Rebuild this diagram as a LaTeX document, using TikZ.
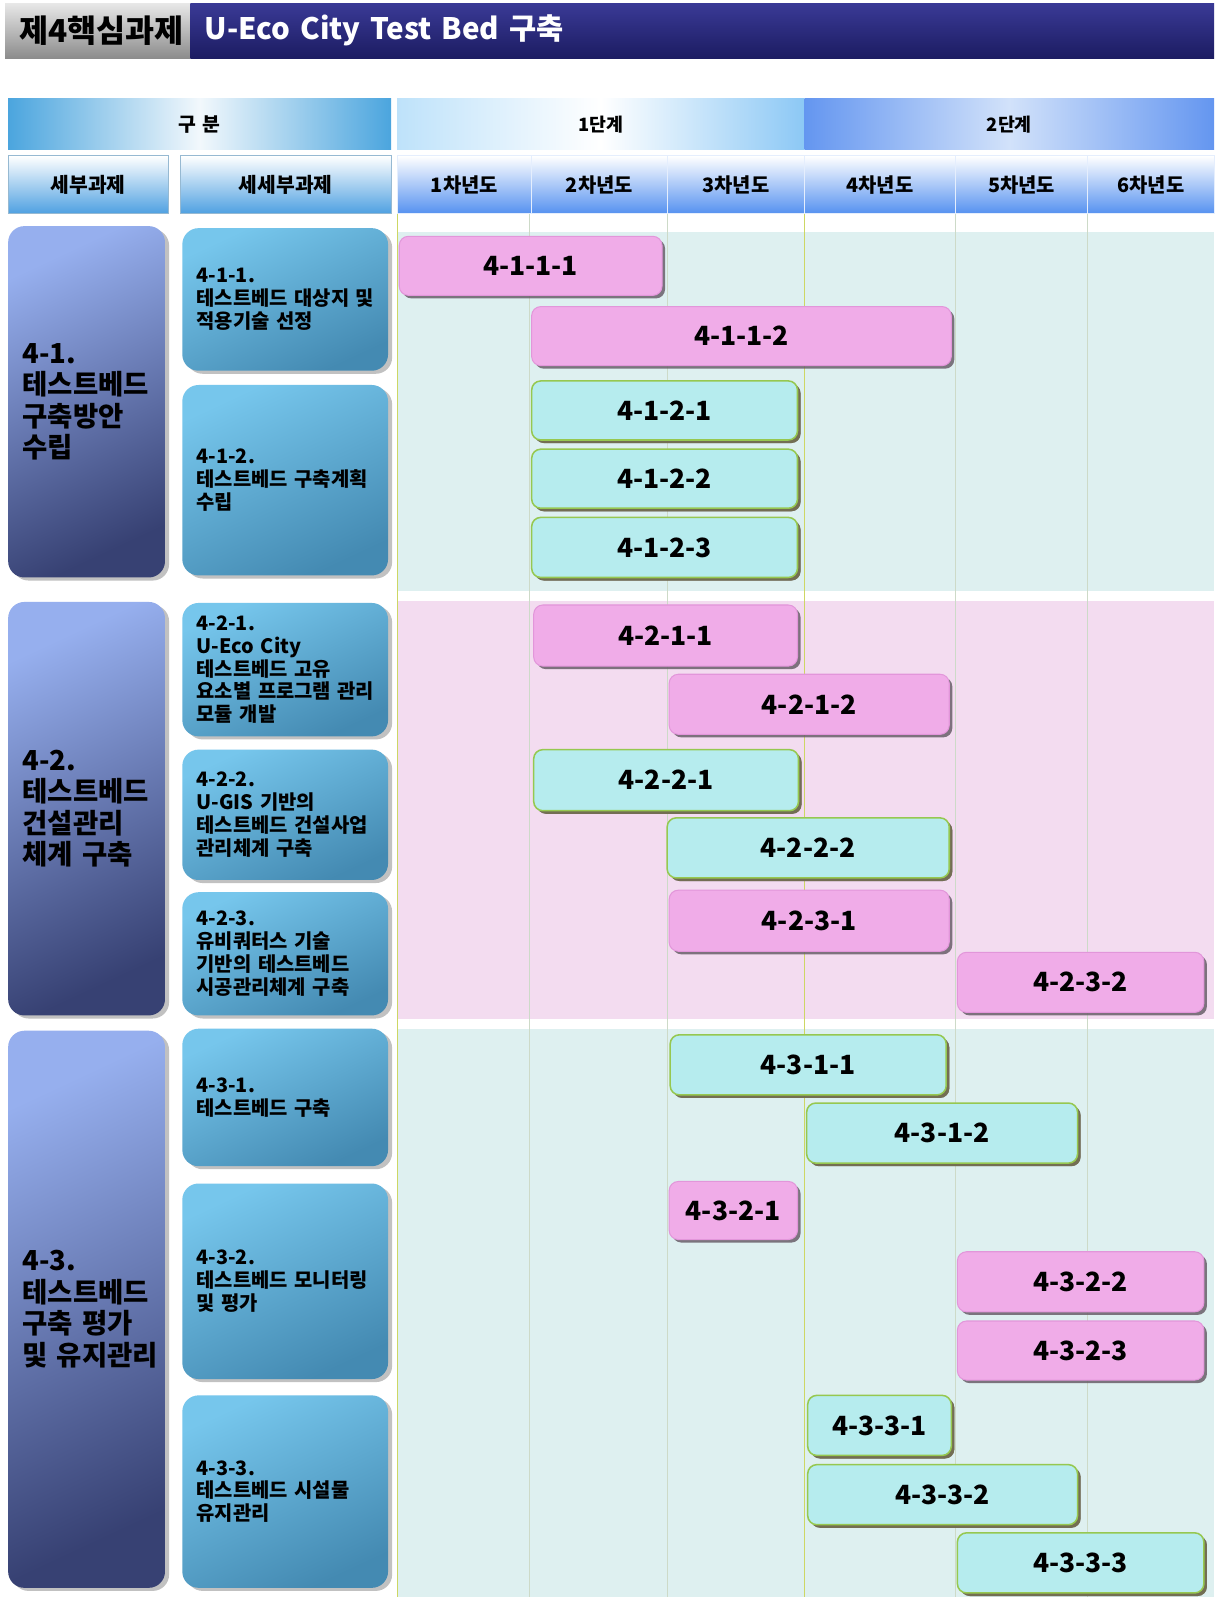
\documentclass[tikz,border=0pt]{standalone}
\usepackage{fontspec}
\setmainfont{Noto Sans CJK KR}
\usetikzlibrary{shadows}
\newcommand\myfs[2]{\fontsize{#1}{#2}\selectfont}
\newcommand\cellbox[7]{%
  \pgfmathsetmacro\bw{#5-#3}\pgfmathsetmacro\bh{#6-#4}\pgfmathsetmacro\tw{max(#5-#3-28,10)}%
  \node[#1, minimum width=\bw pt, minimum height=\bh pt, text width=\tw pt] (#2) at (#3,#4) {#7};}
\newcommand\gbar[7]{%
  \pgfmathsetmacro\bw{#5-#3-3}\pgfmathsetmacro\bh{#6-#4-3}%
  \node[#1, minimum width=\bw pt, minimum height=\bh pt] (#2) at (#3,#4) {#7};}
\definecolor{pinkfill}{RGB}{240,172,232}
\definecolor{pinkline}{RGB}{226,150,218}
\definecolor{tealfill}{RGB}{182,236,238}
\definecolor{tealline}{RGB}{150,200,80}
\definecolor{bandteal}{RGB}{222,240,240}
\definecolor{bandpink}{RGB}{243,220,240}
\definecolor{gridmain}{RGB}{205,215,100}
\definecolor{gridsub}{RGB}{205,218,200}
\definecolor{shadowc}{RGB}{105,95,105}
\definecolor{grpA}{RGB}{150,175,238}
\definecolor{grpB}{RGB}{55,65,115}
\definecolor{subA}{RGB}{118,198,236}
\definecolor{subB}{RGB}{68,138,178}
\definecolor{tgA}{RGB}{232,232,232}
\definecolor{tgB}{RGB}{140,140,140}
\definecolor{tbA}{RGB}{58,58,150}
\definecolor{tbB}{RGB}{28,28,98}
\definecolor{hA}{RGB}{75,165,222}
\definecolor{hM}{RGB}{242,248,252}
\definecolor{hB}{RGB}{190,226,250}
\definecolor{hBr}{RGB}{140,200,245}
\definecolor{hC}{RGB}{100,150,240}
\definecolor{hCm}{RGB}{210,226,250}
\definecolor{rowA}{RGB}{78,160,225}
\definecolor{rowY}{RGB}{85,145,240}
\definecolor{cellline}{RGB}{150,185,210}
\tikzset{
  cell/.style={inner sep=0pt, outer sep=0pt, anchor=north west, align=center},
  titlegray/.style={cell, top color=tgA, bottom color=tgB, font=\bfseries\myfs{31}{32}},
  titleblue/.style={cell, top color=tbA, bottom color=tbB, text=white, align=left, font=\bfseries\myfs{29}{32}},
  hdrgubun/.style={cell, left color=hA, right color=hA, middle color=hM, font=\bfseries\myfs{19}{20}},
  hdrone/.style={cell, left color=hB, right color=hBr, middle color=white, font=\bfseries\myfs{18}{20}},
  hdrtwo/.style={cell, left color=hC, right color=hC, middle color=hCm, font=\bfseries\myfs{18}{20}},
  hdrtask/.style={cell, top color=white, bottom color=rowA, draw=cellline, line width=0.8pt, font=\bfseries\myfs{20}{22}},
  hdryear/.style={cell, top color=white, bottom color=rowY, draw=white!85!rowY, line width=0.8pt, font=\bfseries\myfs{19.5}{22}},
  grpbox/.style={cell, align=left, rounded corners=16pt, top color=grpA, bottom color=grpB, shading angle=25,
     drop shadow={shadow xshift=4pt, shadow yshift=-3pt, fill=gray!60, opacity=0.8}, font=\bfseries\myfs{27}{31}},
  subbox/.style={cell, align=left, rounded corners=16pt, top color=subA, bottom color=subB, shading angle=25,
     drop shadow={shadow xshift=4pt, shadow yshift=-3pt, fill=gray!60, opacity=0.8}, font=\bfseries\myfs{19.5}{22.5}},
  pinkbar/.style={cell, rounded corners=9pt, fill=pinkfill, draw=pinkline, line width=1pt,
     drop shadow={shadow xshift=3pt, shadow yshift=-3pt, fill=shadowc, opacity=0.85}, font=\bfseries\myfs{26}{26}},
  tealbar/.style={pinkbar, fill=tealfill, draw=tealline, line width=1.5pt,
     drop shadow={shadow xshift=3pt, shadow yshift=-3pt, fill=black!45!olive!60!gray, opacity=0.85}},
  gridmainline/.style={draw=gridmain, line width=1pt},
  gridsubline/.style={draw=gridsub, line width=0.8pt},
}
\begin{document}
\begin{tikzpicture}[x=1pt,y=-1pt]
\useasboundingbox (0,0) rectangle (1194,1568);
\fill[white] (0,0) rectangle (1194,1568);
% title
\cellbox{titlegray}{tgray}{5}{3}{187}{57}{제4핵심과제}
\cellbox{titleblue}{tblue}{187}{3}{1192}{57}{U-Eco City Test Bed 구축}
% header row 1
\cellbox{hdrgubun}{hgubun}{8}{97}{384}{147}{구 분}
\cellbox{hdrone}{hstage1}{390}{97}{790}{147}{1단계}
\cellbox{hdrtwo}{hstage2}{790}{97}{1192}{147}{2단계}
% header row 2
\cellbox{hdrtask}{htask}{8}{153}{165}{210}{세부과제}
\cellbox{hdrtask}{hsubtask}{177}{153}{384}{210}{세세부과제}
\cellbox{hdryear}{hy1}{390}{153}{522}{210}{1차년도}
\cellbox{hdryear}{hy2}{522}{153}{655}{210}{2차년도}
\cellbox{hdryear}{hy3}{655}{153}{790}{210}{3차년도}
\cellbox{hdryear}{hy4}{790}{153}{938}{210}{4차년도}
\cellbox{hdryear}{hy5}{938}{153}{1068}{210}{5차년도}
\cellbox{hdryear}{hy6}{1068}{153}{1192}{210}{6차년도}
% bands
\fill[bandteal] (390,228) rectangle (1192,580);
\fill[bandpink] (390,590) rectangle (1192,1000);
\fill[bandteal] (390,1010) rectangle (1192,1568);
% grid lines
\draw[gridmainline] (390,210) -- (390,1568);
\draw[gridsubline] (520,210) -- (520,1568);
\draw[gridsubline] (655,210) -- (655,1568);
\draw[gridmainline] (790,210) -- (790,1568);
\draw[gridsubline] (938,210) -- (938,1568);
\draw[gridsubline] (1068,210) -- (1068,1568);
% group boxes
\cellbox{grpbox}{g1}{8}{222}{162}{567}{4-1.\\테스트베드\\구축방안\\수립}
\cellbox{grpbox}{g2}{8}{591}{162}{997}{4-2.\\테스트베드\\건설관리\\체계~구축}
\cellbox{grpbox}{g3}{8}{1012}{162}{1559}{4-3.\\테스트베드\\구축~평가\\및~유지관리}
% sub boxes
\cellbox{subbox}{s11}{179}{224}{381}{364}{4-1-1.\\테스트베드~대상지~및\\적용기술~선정}
\cellbox{subbox}{s12}{179}{378}{381}{565}{4-1-2.\\테스트베드~구축계획\\수립}
\cellbox{subbox}{s21}{179}{592}{381}{723}{4-2-1.\\U-Eco~City\\테스트베드~고유\\요소별~프로그램~관리\\모듈~개발}
\cellbox{subbox}{s22}{179}{736}{381}{864}{4-2-2.\\U-GIS~기반의\\테스트베드~건설사업\\관리체계~구축}
\cellbox{subbox}{s23}{179}{876}{381}{997}{4-2-3.\\유비쿼터스~기술\\기반의~테스트베드\\시공관리체계~구축}
\cellbox{subbox}{s31}{179}{1010}{381}{1145}{4-3-1.\\테스트베드~구축}
\cellbox{subbox}{s32}{179}{1162}{381}{1354}{4-3-2.\\테스트베드~모니터링\\및~평가}
\cellbox{subbox}{s33}{179}{1370}{381}{1559}{4-3-3.\\테스트베드~시설물\\유지관리}
% bars
\gbar{pinkbar}{b4111}{392}{232}{653}{293}{4-1-1-1}
\gbar{pinkbar}{b4112}{522}{301}{937}{362}{4-1-1-2}
\gbar{tealbar}{b4121}{522}{374}{786}{435}{4-1-2-1}
\gbar{tealbar}{b4122}{522}{441}{786}{502}{4-1-2-2}
\gbar{tealbar}{b4123}{522}{508}{786}{570}{4-1-2-3}
\gbar{pinkbar}{b4211}{524}{594}{786}{657}{4-2-1-1}
\gbar{pinkbar}{b4212}{657}{662}{935}{724}{4-2-1-2}
\gbar{tealbar}{b4221}{524}{736}{787}{799}{4-2-2-1}
\gbar{tealbar}{b4222}{655}{803}{935}{865}{4-2-2-2}
\gbar{pinkbar}{b4231}{657}{874}{935}{937}{4-2-3-1}
\gbar{pinkbar}{b4232}{940}{935}{1185}{997}{4-2-3-2}
\gbar{tealbar}{b4311}{658}{1016}{932}{1078}{4-3-1-1}
\gbar{tealbar}{b4312}{792}{1083}{1061}{1145}{4-3-1-2}
\gbar{pinkbar}{b4321}{657}{1160}{786}{1220}{4-3-2-1}
\gbar{pinkbar}{b4322}{940}{1229}{1185}{1291}{4-3-2-2}
\gbar{pinkbar}{b4323}{940}{1297}{1185}{1358}{4-3-2-3}
\gbar{tealbar}{b4331}{793}{1370}{937}{1432}{4-3-3-1}
\gbar{tealbar}{b4332}{793}{1438}{1061}{1500}{4-3-3-2}
\gbar{tealbar}{b4333}{940}{1505}{1185}{1567}{4-3-3-3}
\end{tikzpicture}
\end{document}
